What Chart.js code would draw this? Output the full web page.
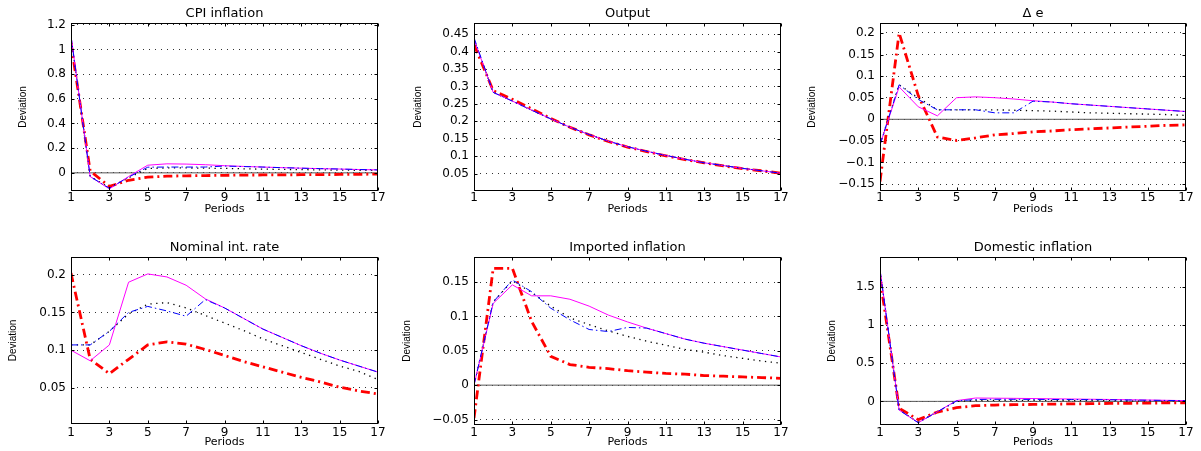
<!DOCTYPE html>
<html>
<head>
<meta charset="utf-8">
<script src="https://cdn.jsdelivr.net/npm/chart.js@4.4.1/dist/chart.umd.min.js"></script>
<style>
  html, body { margin: 0; padding: 0; background: #fff; }
  #wrap { position: relative; width: 1201px; height: 451px; overflow: hidden; }
  .pn { position: absolute; }
</style>
</head>
<body>
<div id="wrap">
  <div class="pn" id="b0"><canvas id="c0"></canvas></div>
  <div class="pn" id="b1"><canvas id="c1"></canvas></div>
  <div class="pn" id="b2"><canvas id="c2"></canvas></div>
  <div class="pn" id="b3"><canvas id="c3"></canvas></div>
  <div class="pn" id="b4"><canvas id="c4"></canvas></div>
  <div class="pn" id="b5"><canvas id="c5"></canvas></div>
</div>
<script>
// periods on the x axis
const periods = [1, 2, 3, 4, 5, 6, 7, 8, 9, 10, 11, 12, 13, 14, 15, 16, 17];
const xTicks = [1, 3, 5, 7, 9, 11, 13, 15, 17];
const zeroLine = [0, 0, 0, 0, 0, 0, 0, 0, 0, 0, 0, 0, 0, 0, 0, 0, 0];

// CPI inflation
const cpiTicks = [0, 0.2, 0.4, 0.6, 0.8, 1, 1.2];
const cpiBlue = [1.11, -0.03, -0.125, -0.035, 0.046, 0.047, 0.047, 0.047, 0.055, 0.051, 0.047, 0.042, 0.038, 0.034, 0.031, 0.027, 0.024];
const cpiMagenta = [1.11, -0.03, -0.13, -0.03, 0.062, 0.073, 0.071, 0.066, 0.058, 0.052, 0.047, 0.042, 0.038, 0.034, 0.031, 0.027, 0.024];
const cpiBlack = [1.1, -0.03, -0.12, -0.04, 0.035, 0.04, 0.04, 0.038, 0.036, 0.033, 0.03, 0.028, 0.026, 0.024, 0.022, 0.021, 0.02];
const cpiRed = [1.05, 0.015, -0.11, -0.06, -0.035, -0.027, -0.024, -0.022, -0.02, -0.018, -0.017, -0.016, -0.015, -0.014, -0.013, -0.012, -0.01];

// Output
const outTicks = [0.05, 0.1, 0.15, 0.2, 0.25, 0.3, 0.35, 0.4, 0.45];
const outBlue = [0.44, 0.283, 0.258, 0.232, 0.207, 0.183, 0.162, 0.143, 0.127, 0.114, 0.102, 0.091, 0.081, 0.073, 0.065, 0.058, 0.051];
const outMagenta = [0.435, 0.283, 0.258, 0.232, 0.207, 0.183, 0.162, 0.143, 0.127, 0.114, 0.102, 0.091, 0.081, 0.073, 0.065, 0.058, 0.051];
const outBlack = [0.435, 0.283, 0.258, 0.232, 0.207, 0.183, 0.162, 0.143, 0.127, 0.114, 0.102, 0.091, 0.081, 0.073, 0.065, 0.058, 0.051];
const outRed = [0.42, 0.288, 0.263, 0.236, 0.208, 0.183, 0.161, 0.142, 0.126, 0.113, 0.101, 0.09, 0.081, 0.072, 0.064, 0.058, 0.051];

// Delta e
const deTicks = [-0.15, -0.1, -0.05, 0, 0.05, 0.1, 0.15, 0.2];
const deBlue = [-0.059, 0.08, 0.046, 0.022, 0.022, 0.022, 0.015, 0.015, 0.042, 0.04, 0.036, 0.033, 0.03, 0.027, 0.024, 0.021, 0.018];
const deMagenta = [-0.059, 0.075, 0.029, 0.008, 0.05, 0.052, 0.05, 0.047, 0.043, 0.04, 0.036, 0.033, 0.03, 0.027, 0.024, 0.021, 0.018];
const deBlack = [-0.059, 0.08, 0.05, 0.022, 0.022, 0.022, 0.022, 0.021, 0.02, 0.019, 0.017, 0.015, 0.014, 0.013, 0.012, 0.011, 0.009];
const deRed = [-0.144, 0.2, 0.055, -0.041, -0.049, -0.043, -0.036, -0.033, -0.029, -0.027, -0.024, -0.022, -0.02, -0.018, -0.016, -0.014, -0.013];

// Nominal int. rate
const nirTicks = [0.05, 0.1, 0.15, 0.2];
const nirBlue = [0.107, 0.107, 0.125, 0.15, 0.158, 0.152, 0.145, 0.167, 0.156, 0.142, 0.128, 0.117, 0.106, 0.096, 0.087, 0.079, 0.071];
const nirMagenta = [0.1, 0.086, 0.107, 0.19, 0.201, 0.197, 0.186, 0.168, 0.156, 0.142, 0.128, 0.117, 0.106, 0.096, 0.087, 0.079, 0.071];
const nirBlack = [0.107, 0.107, 0.125, 0.148, 0.161, 0.163, 0.156, 0.146, 0.136, 0.126, 0.115, 0.106, 0.097, 0.088, 0.079, 0.072, 0.061];
const nirRed = [0.202, 0.088, 0.069, 0.088, 0.107, 0.111, 0.108, 0.101, 0.093, 0.085, 0.078, 0.071, 0.064, 0.058, 0.051, 0.046, 0.042];

// Imported inflation
const impTicks = [-0.05, 0, 0.05, 0.1, 0.15];
const impBlue = [0, 0.121, 0.153, 0.136, 0.112, 0.095, 0.081, 0.078, 0.084, 0.083, 0.075, 0.067, 0.061, 0.056, 0.051, 0.046, 0.041];
const impMagenta = [0, 0.119, 0.146, 0.13, 0.13, 0.125, 0.115, 0.102, 0.092, 0.083, 0.075, 0.067, 0.061, 0.056, 0.051, 0.046, 0.041];
const impBlack = [0, 0.121, 0.152, 0.135, 0.115, 0.098, 0.088, 0.079, 0.071, 0.064, 0.058, 0.052, 0.048, 0.043, 0.039, 0.035, 0.032];
const impRed = [-0.048, 0.17, 0.17, 0.093, 0.042, 0.03, 0.026, 0.024, 0.021, 0.019, 0.017, 0.016, 0.014, 0.013, 0.012, 0.011, 0.01];

// Domestic inflation
const domTicks = [0, 0.5, 1, 1.5];
const domBlue = [1.73, -0.114, -0.28, -0.136, 0.005, 0.025, 0.027, 0.027, 0.026, 0.025, 0.024, 0.023, 0.021, 0.018, 0.015, 0.012, 0.01];
const domMagenta = [1.73, -0.114, -0.28, -0.136, 0.01, 0.044, 0.042, 0.04, 0.037, 0.034, 0.031, 0.028, 0.025, 0.021, 0.018, 0.014, 0.01];
const domBlack = [1.72, -0.11, -0.275, -0.135, 0, 0.012, 0.014, 0.014, 0.013, 0.012, 0.011, 0.01, 0.009, 0.008, 0.007, 0.006, 0.005];
const domRed = [1.62, -0.09, -0.24, -0.14, -0.083, -0.057, -0.048, -0.043, -0.04, -0.036, -0.033, -0.03, -0.027, -0.025, -0.022, -0.02, -0.018];

// panel boxes and plot areas (page pixels)
const geom = [
  { x0: 0,   y0: 0,   w: 400, h: 225, l: 71,  t: 23,  r: 378,  b: 191, yLabX: 23,  xLabY: 209, xTickY: 198 },
  { x0: 400, y0: 0,   w: 400, h: 225, l: 474, t: 23,  r: 781,  b: 191, yLabX: 418, xLabY: 209, xTickY: 198 },
  { x0: 800, y0: 0,   w: 401, h: 225, l: 880, t: 23,  r: 1186, b: 191, yLabX: 812, xLabY: 209, xTickY: 198 },
  { x0: 0,   y0: 225, w: 400, h: 226, l: 71,  t: 257, r: 378,  b: 424, yLabX: 13,  xLabY: 442, xTickY: 433 },
  { x0: 400, y0: 225, w: 400, h: 226, l: 474, t: 257, r: 781,  b: 425, yLabX: 407, xLabY: 442, xTickY: 433 },
  { x0: 800, y0: 225, w: 401, h: 226, l: 880, t: 257, r: 1186, b: 425, yLabX: 832, xLabY: 442, xTickY: 433 }
];

Chart.defaults.font.family = "'DejaVu Sans', sans-serif";
Chart.defaults.color = '#000';

// box round the plot area with small inward ticks, like matlab axes
const framePlugin = {
  id: 'frame',
  afterDatasetsDraw(chart) {
    const { ctx, chartArea: a, scales } = chart;
    const L = Math.round(a.left) + 0.5, R = Math.round(a.right) - 0.5;
    const T = Math.round(a.top) + 0.5, B = Math.round(a.bottom) - 0.5;
    ctx.save();
    ctx.strokeStyle = '#000';
    ctx.lineWidth = 1;
    ctx.setLineDash([]);
    ctx.strokeRect(L, T, R - L, B - T);
    ctx.beginPath();
    scales.x.ticks.forEach(t => {
      const px = Math.round(scales.x.getPixelForValue(t.value)) + 0.5;
      ctx.moveTo(px, B); ctx.lineTo(px, B - 3);
      ctx.moveTo(px, T); ctx.lineTo(px, T + 3);
    });
    scales.y.ticks.forEach(t => {
      const py = Math.round(scales.y.getPixelForValue(t.value)) + 0.5;
      ctx.moveTo(L, py); ctx.lineTo(L + 3, py);
      ctx.moveTo(R, py); ctx.lineTo(R - 3, py);
    });
    ctx.stroke();
    ctx.restore();
  }
};

const titlePlugin = {
  id: 'panelTitle',
  afterDraw(chart, args, opts) {
    const { ctx, chartArea: a } = chart;
    ctx.save();
    ctx.font = "13px 'DejaVu Sans', sans-serif";
    ctx.fillStyle = '#000';
    ctx.textAlign = 'center';
    ctx.textBaseline = 'middle';
    ctx.fillText(opts.text, (a.left + a.right) / 2, a.top - 9);
    ctx.restore();
  }
};

const fmt = v => v < 0 ? '\u2212' + String(-v) : String(v);

function makePanel(i, title, yMin, yMax, yTicks, blue, magenta, black, red, zero) {
  const g = geom[i];
  const box = document.getElementById('b' + i);
  box.style.left = g.x0 + 'px';
  box.style.top = g.y0 + 'px';
  box.style.width = g.w + 'px';
  box.style.height = g.h + 'px';

  const datasets = [
    { data: blue, borderColor: '#0000ff', borderWidth: 1, borderDash: [7, 3, 1.5, 3] },
    { data: magenta, borderColor: '#ff00ff', borderWidth: 1 },
    { data: black, borderColor: '#000', borderWidth: 1.3, borderDash: [1.3, 4.5] },
    { data: red, borderColor: '#ff0000', borderWidth: 2.8, borderDash: [9, 4, 2, 4] }
  ];
  if (zero) datasets.push({ data: zero, borderColor: '#555', borderWidth: 1 });

  new Chart(document.getElementById('c' + i), {
    type: 'line',
    data: { labels: periods, datasets },
    options: {
      responsive: true,
      maintainAspectRatio: false,
      animation: false,
      elements: { point: { radius: 0 }, line: { tension: 0, fill: false } },
      layout: { padding: { left: 0, top: g.t - g.y0, right: g.x0 + g.w - g.r, bottom: 0 } },
      plugins: { legend: { display: false }, tooltip: { enabled: false }, panelTitle: { text: title } },
      scales: {
        x: {
          type: 'linear', min: 1, max: 17,
          afterBuildTicks: s => { s.ticks = xTicks.map(v => ({ value: v })); },
          afterFit: s => { s.height = g.y0 + g.h - g.b; },
          grid: { display: false, drawTicks: false },
          border: { display: false },
          ticks: { autoSkip: false, maxRotation: 0, padding: g.xTickY - g.b - 7, font: { size: 12 }, callback: v => String(v) },
          title: { display: true, text: 'Periods', font: { size: 11 }, padding: { top: 0, bottom: g.y0 + g.h - g.xLabY - 6.6 } }
        },
        y: {
          min: yMin, max: yMax,
          afterBuildTicks: s => { s.ticks = yTicks.map(v => ({ value: v })); },
          afterFit: s => { s.width = g.l - g.x0; },
          grid: { color: '#333', lineWidth: 1, drawTicks: false },
          border: { display: false, dash: [1, 5] },
          ticks: { autoSkip: false, padding: 5, font: { size: 12 }, callback: v => fmt(v) },
          title: {
            display: true, text: 'Deviation',
            font: { size: 10, family: "'Liberation Sans Narrow', 'Liberation Sans', sans-serif" },
            padding: { top: g.yLabX - g.x0 - 6, bottom: 0 }
          }
        }
      }
    },
    plugins: [framePlugin, titlePlugin]
  });
}

makePanel(0, 'CPI inflation', -0.147, 1.214, cpiTicks, cpiBlue, cpiMagenta, cpiBlack, cpiRed, zeroLine);
makePanel(1, 'Output', 0, 0.482, outTicks, outBlue, outMagenta, outBlack, outRed, null);
makePanel(2, '\u0394 e', -0.166, 0.223, deTicks, deBlue, deMagenta, deBlack, deRed, zeroLine);
makePanel(3, 'Nominal int. rate', 0.0023, 0.2234, nirTicks, nirBlue, nirMagenta, nirBlack, nirRed, null);
makePanel(4, 'Imported inflation', -0.058, 0.1865, impTicks, impBlue, impMagenta, impBlack, impRed, zeroLine);
makePanel(5, 'Domestic inflation', -0.31, 1.895, domTicks, domBlue, domMagenta, domBlack, domRed, zeroLine);
</script>
</body>
</html>
